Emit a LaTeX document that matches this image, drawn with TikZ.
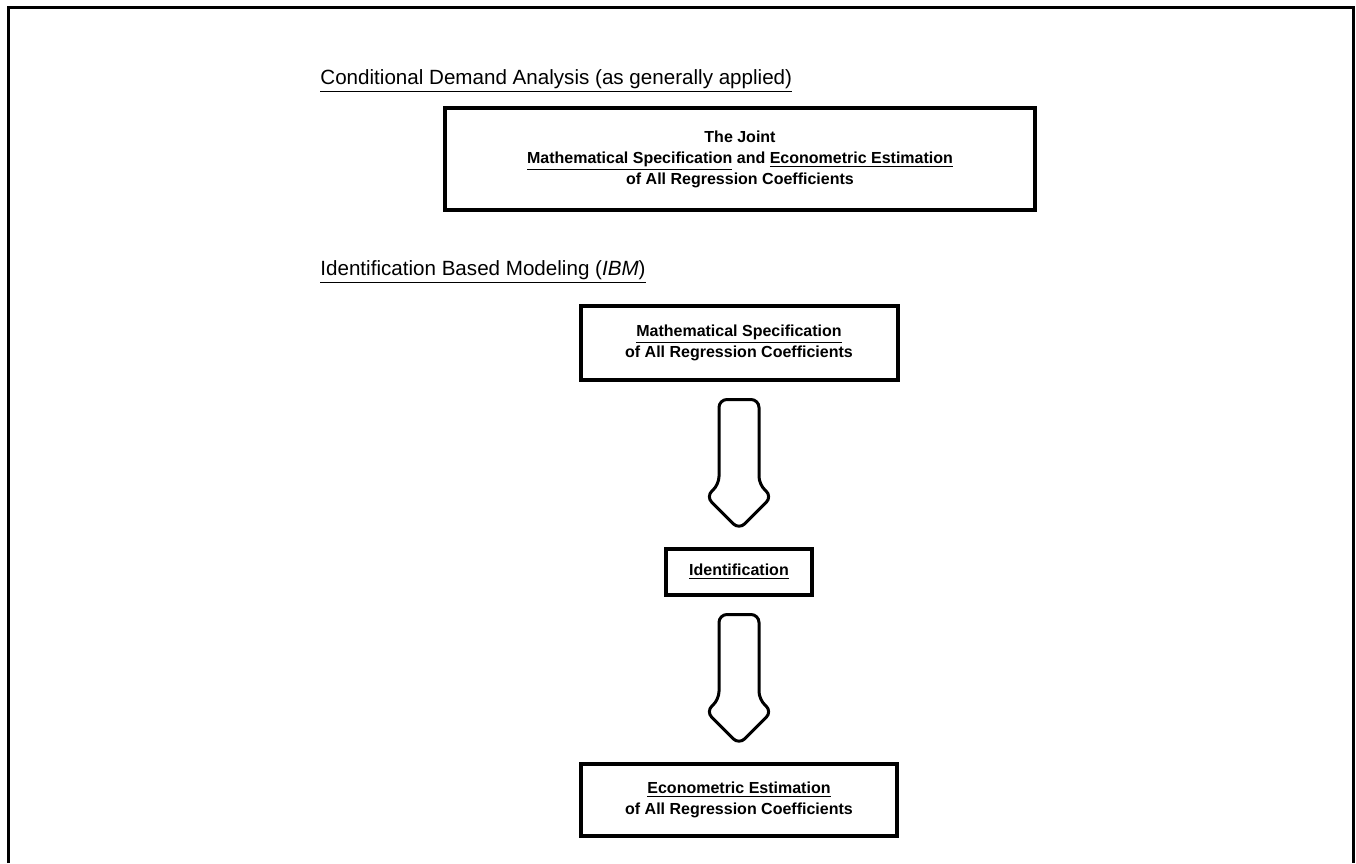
\documentclass[tikz,border=0pt]{standalone}
\usepackage{fontspec}
\setmainfont{Liberation Sans}
\usepackage{tikz}
\usetikzlibrary{positioning,calc}

\tikzset{
  box/.style={draw, line width=2pt, align=center, font=\bfseries\fontsize{8}{10.5}\selectfont, inner sep=0pt},
  heading/.style={anchor=west, inner sep=0pt, font=\fontsize{10.3}{12}\selectfont},
  fatarrow/.pic={
    \draw[line width=1.5pt, rounded corners=4pt]
      (-20,20) -- (-20,-65) -- (20,-65) -- (20,20) -- (33,32) -- (0,65) -- (-33,32) -- cycle;
  }
}

\begin{document}
\begin{tikzpicture}[x=0.5pt, y=-0.5pt]
    \useasboundingbox (0,0) rectangle (1356,863);
    % Outer frame, open at the bottom
    \draw[line width=1.5pt] (8,863) -- (8,7) -- (1353,7) -- (1353,863);

    % Conditional demand analysis
    \node[heading] (cdatitle) at (320,81) {\underline{Conditional Demand Analysis (as generally applied)}};
    \node[box, minimum width=295pt, minimum height=51pt] (joint) at (740,159)
      {The Joint\\ \underline{Mathematical Specification} and \underline{Econometric Estimation}\\ of All Regression Coefficients};

    % Identification based modeling
    \node[heading] (ibmtitle) at (320,272) {\underline{Identification Based Modeling (\textit{IBM})}};
    \node[box, minimum width=158.5pt, minimum height=37pt] (spec) at (739,343)
      {\underline{Mathematical Specification}\\ of All Regression Coefficients};
    \node[box, minimum width=73pt, minimum height=23pt, below=82.5pt of spec] (ident)
      {\underline{Identification}};
    \node[box, minimum width=158pt, minimum height=36pt, below=82.5pt of ident] (estim)
      {\underline{Econometric Estimation}\\ of All Regression Coefficients};

    % Block arrows between the steps
    \pic at ($(spec.south)!0.5!(ident.north)$) {fatarrow};
    \pic at ($(ident.south)!0.5!(estim.north)$) {fatarrow};
\end{tikzpicture}
\end{document}
